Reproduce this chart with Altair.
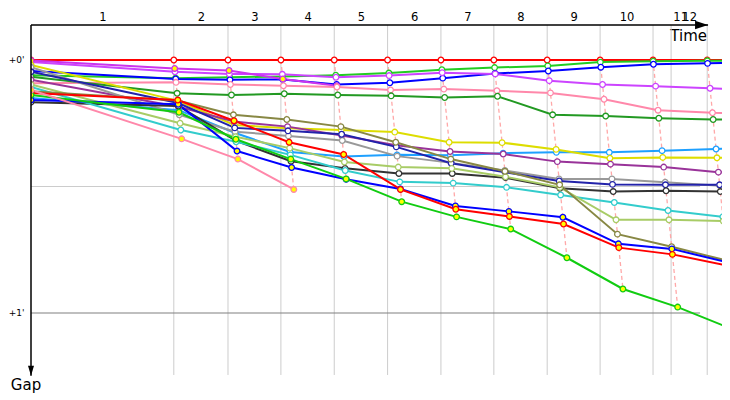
import altair as alt
import pandas as pd

# leader crossing time (s) at the end of each lap (lap 0 = start)
leader_time = [0, 340, 469, 595, 722, 849, 976, 1102, 1229, 1355, 1481, 1610, 1737]
extra_grid = [1524]
lap_labels = [str(i) for i in range(1, 13)]
label_pos = [170.0, 404.5, 532.0, 658.5, 785.5, 912.5, 1039.0, 1165.5, 1292.0, 1418.0, 1545.5, 1567.0]

drivers = ["A", "B", "C", "D", "D2", "E", "F", "G", "H", "I", "J", "K", "L", "M", "N", "O", "P", "Q", "R", "S"]
colors = ["#ff0000", "#22cc22", "#0000ff", "#cc44ff", "#cc33ee", "#ff88aa", "#229922", "#1ea0ff",
          "#dddd00", "#993399", "#999999", "#2222aa", "#333333", "#33cccc", "#a8cc66", "#888844",
          "#0000ff", "#ff0000", "#11cc11", "#ff88aa"]
yellow = [False, False, False, False, True, False, False, False, False, False, False, False, False,
          False, False, False, True, True, True, True]

N = None
gap_A = [0, 0, 0, 0, 0, 0, 0, 0, 0, 0, 0, 0, 0]
gap_B = [3.6, 4.3, 4.1, 3.9, 3.6, 3.1, 2.3, 1.8, 1.4, 0.5, 0.3, 0.2, 0.1]
gap_C = [2.6, 4.5, 4.7, 4.6, 5.8, 5.4, 4.3, 3.2, 2.6, 1.7, 1.0, 0.8, 0.5]
gap_D = [0.5, 2.8, 3.3, 3.4, 4.1, 3.7, 3.0, 3.3, 4.9, 5.8, 6.2, 6.7, 7.2]
gap_D2 = [0.1, 2.0, 2.5, 4.5, 6.1, N, N, N, N, N, N, N, N]
gap_E = [5.5, 5.3, 5.8, 6.1, 6.4, 7.1, 6.9, 7.3, 7.8, 9.3, 11.9, 12.5, 12.8]
gap_F = [4.0, 7.9, 8.3, 8.0, 8.3, 8.5, 8.9, 8.6, 13.0, 13.3, 13.8, 14.1, 14.2]
gap_G = [9.0, 11.9, 17.3, 21.8, 22.9, 22.5, 22.6, 22.1, 21.9, 21.9, 21.5, 21.1, 20.8]
gap_H = [1.2, 9.7, 15.4, 16.2, 16.6, 17.1, 19.5, 19.6, 21.2, 23.3, 23.1, 23.2, 23.1]
gap_I = [4.7, 11.1, 14.6, 15.8, 17.9, 20.2, 21.7, 22.3, 24.1, 24.7, 25.4, 26.6, 26.9]
gap_J = [1.7, 13.0, 17.0, 18.0, 19.1, 22.8, 24.4, 26.2, 28.2, 28.2, 29.0, 29.8, 30.1]
gap_K = [2.8, 10.2, 16.1, 16.8, 17.6, 20.6, 24.5, 26.6, 28.7, 29.5, 29.6, 29.6, 29.8]
gap_L = [10.0, 10.9, 19.2, 24.0, 25.7, 26.9, 26.9, 27.9, 30.4, 31.2, 31.0, 31.2, 31.3]
gap_M = [6.4, 16.6, 19.4, 22.5, 26.2, 28.9, 29.2, 30.2, 32.0, 33.8, 35.7, 37.2, 37.6]
gap_N = [5.8, 15.0, 18.2, 20.9, 24.2, 25.4, 25.7, 27.7, 30.2, 37.9, 37.9, 38.2, 38.3]
gap_O = [7.4, 9.6, 13.0, 14.1, 15.8, 19.5, 23.5, 26.4, 29.6, 41.3, 44.3, 47.6, 48.1]
gap_P = [9.5, 10.5, 21.6, 25.5, 28.3, 30.6, 34.6, 35.9, 37.3, 43.6, 44.8, 48.0, 48.9]
gap_Q = [7.8, 9.5, 14.4, 19.5, 22.4, 30.7, 35.4, 37.1, 38.9, 44.5, 46.1, 48.8, 49.5]
gap_R = [8.3, 12.4, 18.8, 23.5, 28.2, 33.6, 37.2, 40.1, 46.9, 54.3, 58.6, 64.0, 68.0]
gap_S = [7.1, 18.7, 23.5, 30.7, N, N, N, N, N, N, N, N, N]

gaps = [gap_A, gap_B, gap_C, gap_D, gap_D2, gap_E, gap_F, gap_G, gap_H, gap_I, gap_J, gap_K,
        gap_L, gap_M, gap_N, gap_O, gap_P, gap_Q, gap_R, gap_S]

rows = []
for d, yel, g in zip(drivers, yellow, gaps):
    for lap, v in enumerate(g):
        if v is None:
            continue
        t = 0 if lap == 0 else leader_time[lap] + v
        rows.append(dict(driver=d, lap=lap, t=t, gap=v, fill="y" if yel else "w"))
df = pd.DataFrame(rows)

Y_TOP, Y_BOT = -8.3, 75.18
X_MAX = 1645.2

xs = alt.Scale(domain=[0, X_MAX], nice=False, zero=False)
ys = alt.Scale(domain=[Y_TOP, Y_BOT], nice=False, zero=False, reverse=True)

FONT = "DejaVu Sans"
x_axis = alt.Axis(orient="top", values=label_pos,
                  labelExpr=f"'' + (indexof({label_pos}, datum.value) + 1)",
                  domain=False, ticks=False, grid=False, labelPadding=3, labelFontSize=11.5,
                  labelFont=FONT, labelColor="black", labelOverlap=False, labelFlush=False,
                  title="Time", titleX=675.5, titleY=15, titleAlign="right", titleBaseline="alphabetic",
                  titleFontSize=15, titleFontWeight="normal", titleFont=FONT, titleColor="black")
y_axis = alt.Axis(orient="left", values=[0, 60],
                  labelExpr="datum.value == 0 ? \"+0'\" : \"+1'\"",
                  domain=False, ticks=False, grid=False, labelPadding=7, labelFontSize=9,
                  labelFont=FONT, labelColor="black",
                  title="Gap", titleAngle=0, titleX=-5.5, titleY=364, titleAlign="center",
                  titleBaseline="alphabetic", titleFontSize=15, titleFontWeight="normal",
                  titleFont=FONT, titleColor="black")

X = alt.X("t:Q", scale=xs, axis=x_axis)
Y = alt.Y("gap:Q", scale=ys, axis=y_axis)

vgrid = pd.DataFrame({"t": leader_time[1:12] + extra_grid, "gap": Y_TOP, "gap2": 74.7})
hgrid = pd.DataFrame({"t": [0, 0], "t2": [1593, 1593], "gap": [30, 60], "c": ["a", "b"]})

vrules = alt.Chart(vgrid).mark_rule(color="#cccccc", strokeWidth=1).encode(x=X, y=Y, y2="gap2:Q")
hrules = alt.Chart(hgrid).mark_rule(strokeWidth=1.2).encode(
    x=X, x2="t2:Q", y=Y,
    color=alt.Color("c:N", scale=alt.Scale(domain=["a", "b"], range=["#cccccc", "#808080"]), legend=None))

laplines = alt.Chart(df[df.lap >= 1]).mark_line(
    strokeDash=[4, 3], color="#ffa8a8", strokeWidth=1.3, clip=True
).encode(x=X, y=Y, detail="lap:N", order="gap:Q")

lines = alt.Chart(df).mark_line(strokeWidth=2, clip=True).encode(
    x=X, y=Y,
    color=alt.Color("driver:N", scale=alt.Scale(domain=drivers, range=colors), legend=None),
    order="lap:Q")

points = alt.Chart(df).mark_point(shape="circle", filled=True, size=32, strokeWidth=1.3,
                                  opacity=1, clip=True).encode(
    x=X, y=Y,
    fill=alt.Fill("fill:N", scale=alt.Scale(domain=["w", "y"], range=["#ffffff", "#ffff00"]), legend=None),
    stroke=alt.Stroke("driver:N", scale=alt.Scale(domain=drivers, range=colors), legend=None))

axes_df = pd.DataFrame({"t": [0, 0], "t2": [1612, 0], "gap": [Y_TOP, Y_TOP], "gap2": [Y_TOP, 74.9]})
axis_lines = alt.Chart(axes_df).mark_rule(color="black", strokeWidth=1.5).encode(
    x=X, x2="t2:Q", y=Y, y2="gap2:Q")

arrow_x = alt.Chart(pd.DataFrame({"t": [1612], "gap": [Y_TOP]})).mark_point(
    shape="M0,0L-1,-0.32L-1,0.32Z", filled=True, color="black", size=676, opacity=1
).encode(x=X, y=Y)
arrow_y = alt.Chart(pd.DataFrame({"t": [0], "gap": [74.9]})).mark_point(
    shape="M0,0L-0.3,-1L0.3,-1Z", filled=True, color="black", size=400, opacity=1
).encode(x=X, y=Y)

chart = alt.layer(vrules, hrules, laplines, lines, points, axis_lines, arrow_x, arrow_y).properties(
    width=691, height=352,
    autosize=alt.AutoSizeParams(type="none"),
    padding={"left": 23, "top": 17, "right": 0, "bottom": 19},
).configure_view(strokeWidth=0).resolve_scale(color="independent", stroke="independent")

chart.save("out.html", embed_options={"renderer": "svg", "actions": False})
